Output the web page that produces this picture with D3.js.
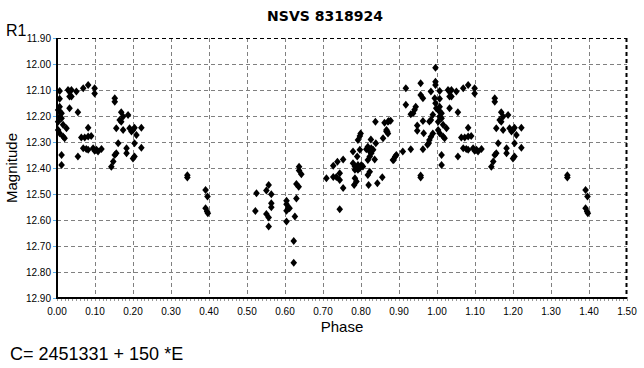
<!DOCTYPE html>
<html>
<head>
<meta charset="utf-8">
<script src="https://cdn.jsdelivr.net/npm/d3@7"></script>
<style>
  body { margin: 0; background: #fff; }
  svg { display: block; font-family: "Liberation Sans", Arial, sans-serif; }
</style>
</head>
<body>
<div id="chart"></div>
<script>
// observed phase / magnitude pairs (one cycle, 0..1)
const phase = [
  0.007, 0.007, 0.007, 0.003, 0.007, 0.012, 0.007, 0.012, 0.003, 0.016, 0.025, 0.003, 0.007, 0.016, 0.020, 0.012, 0.012,
  0.029, 0.033, 0.038, 0.051, 0.033, 0.038, 0.069, 0.082, 0.099, 0.099, 0.033, 0.055, 0.082,
  0.064, 0.073, 0.082, 0.090, 0.069, 0.077, 0.082, 0.095, 0.104, 0.108, 0.117, 0.099, 0.055,
  0.152, 0.152, 0.169, 0.174, 0.165, 0.169, 0.187, 0.156, 0.174, 0.191, 0.196, 0.204, 0.209, 0.222, 0.200,
  0.161, 0.156, 0.152, 0.148, 0.143, 0.183, 0.183, 0.204, 0.204, 0.200, 0.222,
  0.343, 0.343, 0.391, 0.396, 0.391, 0.395, 0.397,
  0.637, 0.637, 0.643, 0.630, 0.636, 0.557, 0.551, 0.564, 0.525, 0.630, 0.604, 0.604, 0.608, 0.604, 0.612,
  0.564, 0.564, 0.522, 0.551, 0.557, 0.626, 0.604, 0.557, 0.623, 0.623,
  0.838, 0.862, 0.871, 0.878, 0.867, 0.869, 0.858, 0.799, 0.797, 0.792, 0.826, 0.839, 0.818, 0.827, 0.814,
  0.823, 0.827, 0.832, 0.797, 0.779, 0.790, 0.823, 0.818, 0.836, 0.910, 0.890, 0.886,
  0.779, 0.784, 0.788, 0.792, 0.801, 0.805, 0.797, 0.784, 0.792, 0.753, 0.738, 0.727, 0.823, 0.818,
  0.744, 0.735, 0.727, 0.709, 0.744, 0.784, 0.788, 0.782, 0.820, 0.843, 0.856, 0.753, 0.744,
  0.996, 0.996, 0.996, 0.957, 0.918, 0.984, 0.957, 0.963, 0.994, 0.918, 0.944, 0.941, 0.931, 0.937, 0.998,
  0.989, 0.984, 0.980, 0.963, 0.948, 0.948, 0.965, 0.989, 0.984, 0.980, 0.978, 0.975, 0.963, 0.931,
  0.893, 0.884, 0.873, 0.867, 0.871, 0.957, 0.957, 0.996
];
const magnitude = [
  12.104, 12.134, 12.164, 12.177, 12.183, 12.189, 12.202, 12.209, 12.222, 12.234, 12.247, 12.254, 12.266, 12.279, 12.286, 12.350, 12.388,
  12.100, 12.106, 12.100, 12.106, 12.125, 12.125, 12.093, 12.081, 12.093, 12.113, 12.170, 12.186, 12.245,
  12.283, 12.283, 12.279, 12.277, 12.324, 12.327, 12.330, 12.324, 12.330, 12.337, 12.327, 12.334, 12.356,
  12.132, 12.145, 12.186, 12.202, 12.215, 12.222, 12.196, 12.247, 12.254, 12.247, 12.260, 12.245, 12.273, 12.245, 12.254,
  12.305, 12.343, 12.350, 12.375, 12.395, 12.324, 12.343, 12.305, 12.356, 12.363, 12.322,
  12.428, 12.437, 12.485, 12.510, 12.555, 12.567, 12.574,
  12.395, 12.410, 12.424, 12.462, 12.472, 12.465, 12.487, 12.501, 12.497, 12.517, 12.526, 12.539, 12.555, 12.564, 12.555,
  12.536, 12.551, 12.565, 12.577, 12.590, 12.587, 12.606, 12.625, 12.681, 12.764,
  12.222, 12.226, 12.222, 12.218, 12.254, 12.260, 12.286, 12.267, 12.277, 12.292, 12.290, 12.305, 12.318, 12.324, 12.328,
  12.337, 12.343, 12.330, 12.330, 12.337, 12.356, 12.356, 12.369, 12.367, 12.337, 12.356, 12.369,
  12.382, 12.394, 12.401, 12.407, 12.388, 12.394, 12.401, 12.407, 12.388, 12.367, 12.376, 12.391, 12.414, 12.427,
  12.420, 12.435, 12.435, 12.439, 12.446, 12.439, 12.452, 12.465, 12.465, 12.459, 12.436, 12.477, 12.559,
  12.014, 12.068, 12.081, 12.074, 12.093, 12.106, 12.119, 12.132, 12.132, 12.157, 12.164, 12.176, 12.193, 12.189, 12.170,
  12.195, 12.215, 12.221, 12.219, 12.237, 12.257, 12.266, 12.267, 12.280, 12.292, 12.305, 12.311, 12.328, 12.328,
  12.350, 12.369, 12.219, 12.260, 12.267, 12.429, 12.437, 12.151
];
const xTicks = d3.range(0, 16).map(i => i / 10);
const yTicks = d3.range(0, 11).map(i => 11.9 + i / 10);

const W = 644, H = 368;
const margin = { top: 38, right: 17, bottom: 70, left: 57 };
const width = W - margin.left - margin.right,
      height = H - margin.top - margin.bottom;

const svg = d3.select("#chart").append("svg")
    .attr("width", W)
    .attr("height", H);

const g = svg.append("g")
    .attr("transform", "translate(" + margin.left + "," + margin.top + ")");

const x = d3.scaleLinear().domain([0, 1.5]).range([0, width]);
const y = d3.scaleLinear().domain([11.9, 12.9]).range([0, height]);

// one cycle plus the first half repeated after phase 1
const points = phase.map((p, i) => ({ phase: p, mag: magnitude[i] }));
const shown = points.concat(points.filter(d => d.phase < 0.5).map(d => ({ phase: d.phase + 1, mag: d.mag })));

// grid
g.append("g").selectAll("line")
  .data(xTicks.slice(1, -1))
  .enter().append("line")
    .attr("x1", d => Math.round(x(d)) + 0.5).attr("x2", d => Math.round(x(d)) + 0.5)
    .attr("y1", 0).attr("y2", height)
    .attr("stroke", "#808080").attr("stroke-dasharray", "4,3");

g.append("g").selectAll("line")
  .data(yTicks.slice(1, -1))
  .enter().append("line")
    .attr("y1", d => Math.round(y(d)) + 0.5).attr("y2", d => Math.round(y(d)) + 0.5)
    .attr("x1", 0).attr("x2", width)
    .attr("stroke", "#808080").attr("stroke-dasharray", "4,3");

// top and right frame
g.append("line").attr("x1", 0).attr("x2", width).attr("y1", 0.5).attr("y2", 0.5)
  .attr("stroke", "#000").attr("stroke-dasharray", "4,3");
g.append("line").attr("x1", width - 0.5).attr("x2", width - 0.5).attr("y1", 0).attr("y2", height)
  .attr("stroke", "#000").attr("stroke-width", 2).attr("stroke-dasharray", "4,3");

// minor ticks along the bottom
g.append("g").selectAll("line")
  .data(d3.range(0, 151).map(i => i / 100))
  .enter().append("line")
    .attr("x1", d => Math.round(x(d)) + 0.5).attr("x2", d => Math.round(x(d)) + 0.5)
    .attr("y1", height).attr("y2", height + 3)
    .attr("stroke", "#999");

// y ticks
g.append("g").selectAll("line")
  .data(yTicks)
  .enter().append("line")
    .attr("x1", -4).attr("x2", 0)
    .attr("y1", d => Math.round(y(d)) + 0.5).attr("y2", d => Math.round(y(d)) + 0.5)
    .attr("stroke", "#5aaee6");

// axes lines
g.append("line").attr("x1", 0).attr("x2", 0).attr("y1", 0).attr("y2", height + 1)
  .attr("stroke", "#000").attr("stroke-width", 2);
g.append("line").attr("x1", 0).attr("x2", width).attr("y1", height).attr("y2", height)
  .attr("stroke", "#000").attr("stroke-width", 2);

// tick labels
g.append("g").selectAll("text")
  .data(xTicks)
  .enter().append("text")
    .attr("x", d => x(d))
    .attr("y", height + 17)
    .attr("text-anchor", "middle")
    .style("font-size", "10px")
    .text(d => d.toFixed(2));

g.append("g").selectAll("text")
  .data(yTicks)
  .enter().append("text")
    .attr("x", -6)
    .attr("y", d => y(d) + 3.5)
    .attr("text-anchor", "end")
    .style("font-size", "10px")
    .text(d => d.toFixed(2));

// points
const diamond = "M0,-4L3.3,0L0,4L-3.3,0Z";
g.append("g").selectAll("path")
  .data(shown)
  .enter().append("path")
    .attr("d", diamond)
    .attr("transform", d => "translate(" + x(d.phase) + "," + y(d.mag) + ")")
    .attr("fill", "#000");

// titles
svg.append("text")
  .attr("x", 325).attr("y", 21)
  .attr("text-anchor", "middle")
  .style("font-family", "'DejaVu Sans', sans-serif")
  .style("font-weight", "bold")
  .style("font-size", "14px")
  .text("NSVS 8318924");

svg.append("text")
  .attr("x", 6).attr("y", 36)
  .style("font-size", "16px")
  .text("R1");

svg.append("text")
  .attr("x", margin.left + width / 2).attr("y", 332)
  .attr("text-anchor", "middle")
  .style("font-size", "15px")
  .text("Phase");

svg.append("text")
  .attr("transform", "rotate(-90)")
  .attr("x", -(margin.top + height / 2)).attr("y", 17)
  .attr("text-anchor", "middle")
  .style("font-size", "15px")
  .text("Magnitude");

svg.append("text")
  .attr("x", 10).attr("y", 360)
  .style("font-size", "18px")
  .text("C= 2451331 + 150 *E");
</script>
</body>
</html>
